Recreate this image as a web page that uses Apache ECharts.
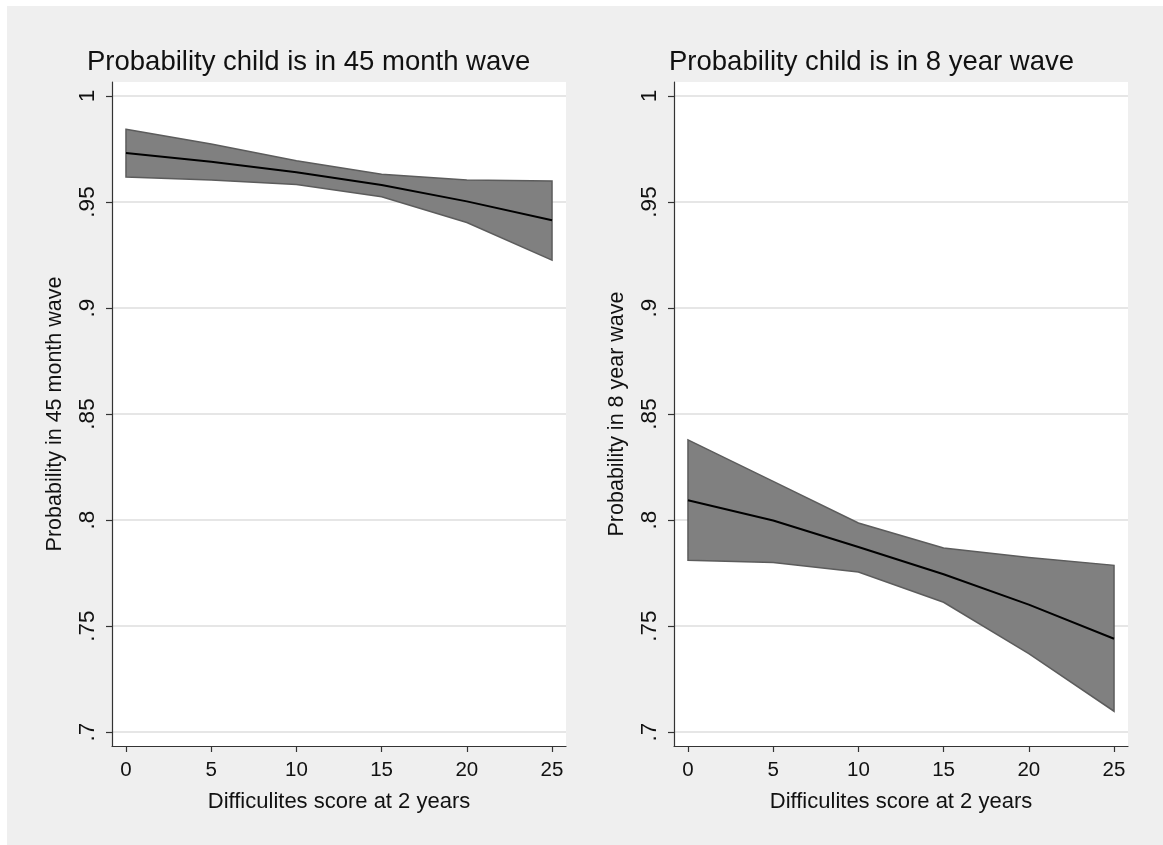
<!DOCTYPE html>
<html>
<head>
<meta charset="utf-8">
<script src="https://cdn.jsdelivr.net/npm/echarts@6/dist/echarts.min.js"></script>
<style>
html,body{margin:0;padding:0;background:#fff;}
#chart{width:1163px;height:845px;}
</style>
</head>
<body>
<div id="chart"></div>
<script>
// ---- data ----
const scores = [0, 5, 10, 15, 20, 25];
const xTicks = [0, 5, 10, 15, 20, 25];
const yTicks = [0.7, 0.75, 0.8, 0.85, 0.9, 0.95, 1];

const titles45 = 'Probability child is in 45 month wave';
const titles8 = 'Probability child is in 8 year wave';
const yName45 = 'Probability in 45 month wave';
const yName8 = 'Probability in 8 year wave';
const xName = 'Difficulites score at 2 years';

const mean45  = [0.9731, 0.9690, 0.9640, 0.9580, 0.9503, 0.9414];
const upper45 = [0.9843, 0.9774, 0.9695, 0.9631, 0.9604, 0.9599];
const lower45 = [0.9618, 0.9604, 0.9582, 0.9525, 0.9403, 0.9226];

const mean8  = [0.8093, 0.7998, 0.7873, 0.7744, 0.7601, 0.7440];
const upper8 = [0.8378, 0.8182, 0.7986, 0.7868, 0.7823, 0.7786];
const lower8 = [0.7810, 0.7799, 0.7755, 0.7612, 0.7370, 0.7098];

// ---- chart ----
const FONT = '"Liberation Sans", Arial, Helvetica, sans-serif';
const chart = echarts.init(document.getElementById('chart'), null, {renderer: 'canvas'});

function fmtY(v) {
  if (Math.abs(v - 1) < 1e-9) return '1';
  const s = String(+v.toFixed(2));
  return s.replace(/^0/, '');
}

function xAxis(idx) {
  return {
    type: 'value', gridIndex: idx, min: -0.82, max: 25.82,
    name: xName, nameLocation: 'middle', nameGap: 45,
    nameTextStyle: {fontFamily: FONT, fontSize: 22, color: '#111'},
    axisLine: {show: true, onZero: false, lineStyle: {color: '#333', width: 1.2}},
    axisTick: {show: true, length: 6, customValues: xTicks, lineStyle: {color: '#333', width: 1.2}},
    axisLabel: {customValues: xTicks, fontFamily: FONT, fontSize: 20.5, color: '#111', margin: 14},
    splitLine: {show: false}
  };
}
function yAxis(idx, name) {
  return {
    type: 'value', gridIndex: idx, min: 0.6934, max: 1.0066,
    name: name, nameLocation: 'middle', nameGap: 46, nameRotate: 90,
    nameTextStyle: {fontFamily: FONT, fontSize: 21.5, color: '#111'},
    axisLine: {show: true, onZero: false, lineStyle: {color: '#333', width: 1.2}},
    axisTick: {show: true, length: 6, customValues: yTicks, lineStyle: {color: '#333', width: 1.2}},
    axisLabel: {customValues: yTicks, rotate: 90, fontFamily: FONT, fontSize: 22.5, color: '#111', margin: 13, formatter: fmtY},
    splitLine: {show: true, lineStyle: {color: '#e6e6e6', width: 2}}
  };
}

function band(idx, lower, upper) {
  return {
    type: 'custom', xAxisIndex: idx, yAxisIndex: idx, z: 2,
    data: scores.map((x, i) => [x, lower[i], upper[i]]),
    encode: {x: 0, y: [1, 2]},
    renderItem: function (params, api) {
      if (params.dataIndex !== 0) return null;
      const pts = [];
      for (let i = 0; i < scores.length; i++) pts.push(api.coord([scores[i], upper[i]]));
      for (let i = scores.length - 1; i >= 0; i--) pts.push(api.coord([scores[i], lower[i]]));
      return {
        type: 'polygon', shape: {points: pts},
        style: {fill: '#808080', stroke: '#5c5c5c', lineWidth: 1.5}
      };
    },
    silent: true
  };
}
function meanLine(idx, mean) {
  return {
    type: 'line', xAxisIndex: idx, yAxisIndex: idx, z: 3,
    data: scores.map((x, i) => [x, mean[i]]),
    symbol: 'none', lineStyle: {color: '#000', width: 2}, silent: true
  };
}

const option = {
  backgroundColor: '#ffffff',
  animation: false,
  graphic: [{
    type: 'rect', z: -10, silent: true,
    shape: {x: 7, y: 6, width: 1163, height: 845},
    style: {fill: '#efefef'}
  }],
  title: [
    {text: titles45, left: 82, top: 43, textStyle: {fontFamily: FONT, fontSize: 27.5, fontWeight: 'normal', color: '#111'}},
    {text: titles8, left: 664, top: 43, textStyle: {fontFamily: FONT, fontSize: 27.5, fontWeight: 'normal', color: '#111'}}
  ],
  grid: [
    {left: 112, top: 82, width: 454, height: 664, show: true, backgroundColor: '#fff', borderWidth: 0},
    {left: 674, top: 82, width: 454, height: 664, show: true, backgroundColor: '#fff', borderWidth: 0}
  ],
  xAxis: [xAxis(0), xAxis(1)],
  yAxis: [yAxis(0, yName45), yAxis(1, yName8)],
  series: [
    band(0, lower45, upper45), meanLine(0, mean45),
    band(1, lower8, upper8), meanLine(1, mean8)
  ]
};
chart.setOption(option);
</script>
</body>
</html>
